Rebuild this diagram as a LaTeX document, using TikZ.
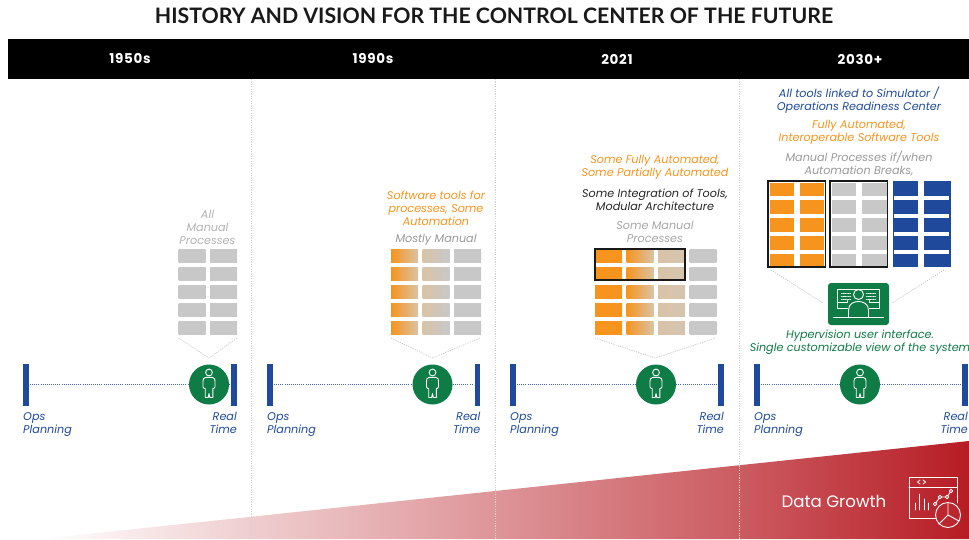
\documentclass[tikz,border=0pt]{standalone}
\usepackage{fontspec}
\setmainfont{Poppins}
\newfontfamily\titlefont{Lato}
\definecolor{cblue}{HTML}{1F4A9C}
\definecolor{cgreen}{HTML}{0F7B45}
\definecolor{corange}{HTML}{F7941D}
\definecolor{cgray}{HTML}{C8C8C8}
\definecolor{cred}{HTML}{B71C24}
\definecolor{ctan}{HTML}{D9C3A6}
\tikzset{
  lbl/.style={font=\itshape\fontsize{11.2}{13}\selectfont,align=center,inner sep=0pt},
  tickbar/.style={fill=cblue,draw=none},
  chev/.style={draw=black!22,dash pattern=on 1.2pt off 1.2pt,line width=.7pt},
  sep/.style={draw=black!18,dash pattern=on 1.2pt off 1.2pt,line width=.8pt},
  axis/.style={draw=cblue!85,dash pattern=on 1pt off 1.1pt,line width=1pt},
  headtxt/.style={text=white,font=\bfseries\fontsize{13.5}{15}\selectfont\addfontfeatures{LetterSpace=5},inner sep=0pt},
  icon/.style={draw=white,line width=.9pt,line join=round,line cap=round},
  persondisc/.style={circle,fill=cgreen,minimum size=40pt,inner sep=0pt},
}
\newcommand{\cellbox}[4]{\shade[left color=#3,right color=#4] (#1,#2) rectangle ++(27,13);}
\newcommand{\gridcol}[3]{\foreach \ry in {249,267,285,303,321}{\cellbox{#1}{\ry}{#2}{#3}}}
\newcommand{\personicon}[2]{%
  \begin{scope}[shift={(#1,#2)}]
    \draw[icon] (0,-12) circle (3.4);
    \draw[icon] (-3,-7.2) .. controls (-6,-7) and (-6,-5) .. (-6,-3) -- (-6,2.5) .. controls (-6,4) and (-4,4) .. (-3.8,4) -- (-3.8,13) -- (-.8,13) -- (0,9) -- (.8,13) -- (3.8,13) -- (3.8,4) .. controls (4,4) and (6,4) .. (6,2.5) -- (6,-3) .. controls (6,-5) and (6,-7) .. (3,-7.2) -- cycle;
  \end{scope}}
\newcommand{\timeline}[4]{% left bar x, right bar x, disc x, suffix
  \fill[tickbar] (#1,364) rectangle ++(5.5,42);
  \fill[tickbar] (#2,364) rectangle ++(5.5,42);
  \node[persondisc] (disc#4) at (#3,384.5) {};
  \coordinate (l#4) at (#1+7,384.5);
  \coordinate (r#4) at (#2-1.5,384.5);
  \draw[axis] (l#4) -- (disc#4);
  \draw[axis] (disc#4) -- (r#4);
  \personicon{#3}{384.5}
  \node[lbl,text=cblue,align=left,anchor=north west] (ops#4) at (#1,412) {Ops\\Planning};
  \node[lbl,text=cblue,align=right,anchor=north east] (rt#4) at (#2+6,412) {Real\\Time};
}
\begin{document}
\begin{tikzpicture}[x=1pt,y=-1pt]
\useasboundingbox (0,0) rectangle (969,539);
% red wedge
\begin{scope}
  \clip (40,539) -- (969,441) -- (969,539) -- cycle;
  \shade[left color=white,right color=cred!72!white] (40,430) rectangle (740.5,539);
  \shade[left color=cred!72!white,right color=cred] (740,430) rectangle (969,539);
\end{scope}
% separators
\foreach \sx/\sn in {251.5/a,495/b,739/c}{
  \coordinate (st\sn) at (\sx,79);
  \coordinate (sb\sn) at (\sx,539);
  \draw[sep] (st\sn) -- (sb\sn);
}
% title and bar
\node[font=\titlefont\fontsize{21.3}{24}\selectfont\bfseries,inner sep=0pt,text=black!90] (title) at (494,15.5) {HISTORY AND VISION FOR THE CONTROL CENTER OF THE FUTURE};
\fill[black] (8,39) rectangle (969,79);
\node[headtxt] (h1) at (130,59) {1950s};
\node[headtxt] (h2) at (373,59) {1990s};
\node[headtxt] (h3) at (617,59) {2021};
\node[headtxt] (h4) at (860,59) {2030+};
% timelines
\timeline{23}{231}{209}{A}
\timeline{267}{474.5}{432.5}{B}
\timeline{510}{718}{656}{C}
\timeline{754}{962}{860}{D}
% column 1
\node[lbl,text=black!30] (t1) at (207.5,227) {All\\Manual\\Processes};
\gridcol{178.5}{cgray}{cgray}
\gridcol{210}{cgray}{cgray}
\coordinate (c1a) at (178.5,338); \coordinate (c1b) at (209,358); \coordinate (c1c) at (237,338);
\draw[chev] (c1a) -- (c1b) -- (c1c);
% column 2
\node[lbl,text=corange] (t2a) at (436,208) {Software tools for\\processes, Some\\Automation};
\node[lbl,text=black!40] (t2b) at (436,239.5) {Mostly Manual};
\gridcol{391}{corange}{ctan}
\gridcol{422.5}{ctan}{cgray}
\gridcol{454}{cgray}{cgray}
\coordinate (c2a) at (391,338); \coordinate (c2b) at (432.5,358); \coordinate (c2c) at (480,338);
\draw[chev] (c2a) -- (c2b) -- (c2c);
% column 3
\node[lbl,text=corange] (t3a) at (655,167.5) {Some Fully Automated,\\Some Partially Automated};
\node[lbl,text=black!85] (t3b) at (655,199.5) {Some Integration of Tools,\\Modular Architecture};
\node[lbl,text=black!35] (t3c) at (655,232) {Some Manual\\Processes};
\gridcol{595}{corange}{corange}
\gridcol{626.5}{corange}{ctan}
\gridcol{658}{ctan}{ctan!70!cgray}
\gridcol{689.5}{cgray}{cgray}
\draw[line width=1.5pt,black!90] (595,249) rectangle (685,280);
\coordinate (c3a) at (595,338); \coordinate (c3b) at (655,358); \coordinate (c3c) at (716,338);
\draw[chev] (c3a) -- (c3b) -- (c3c);
% column 4
\node[lbl,text=cblue] (t4a) at (859,100) {All tools linked to Simulator /\\Operations Readiness Center};
\node[lbl,text=corange] (t4b) at (859,132.5) {Fully Automated,\\Interoperable Software Tools};
\node[lbl,text=black!40] (t4c) at (859,164) {Manual Processes if/when\\Automation Breaks,};
\newcommand{\bigtable}[3]{% x, colour, inset
  \fill[#2] (#1+#3,183) rectangle (#1+58.5-#3,265.5);
  \fill[white] (#1+26,183) rectangle (#1+32,265.5);
  \foreach \by in {195.5,213.5,231.5,249.5}{\fill[white] (#1+#3,\by) rectangle (#1+58.5-#3,\by+4.5);}
}
\bigtable{767.5}{corange}{2}
\bigtable{830}{cgray}{2}
\fill[cblue] (892.5,181) rectangle (950.5,267);
\fill[white] (918,181) rectangle (924,267);
\foreach \by in {195.5,213.5,231.5,249.5}{\fill[white] (894,\by) rectangle (949,\by+4.5);}
\draw[line width=1.5pt,black!90] (768,181) rectangle (825.5,267);
\draw[line width=1.5pt,black!90] (830,181) rectangle (887.5,267);
\node[draw=none,fill=cgreen,rounded corners=3pt,minimum width=61pt,minimum height=42pt,inner sep=0pt] (hyper) at (858.5,304) {};
\coordinate (c4a) at (771,270); \coordinate (c4b) at (823,303);
\coordinate (c4c) at (944,270); \coordinate (c4d) at (892,303);
\draw[chev] (c4a) -- (c4b);
\draw[chev] (c4c) -- (c4d);
% monitor icon
\begin{scope}[shift={(858.5,304)}]
  \draw[icon] (-11,-3.5) -- (-11,-2) -- (-21,-2) -- (-21,-15) -- (21,-15) -- (21,-2) -- (11,-2) -- (11,-3.5);
  \draw[icon,fill=cgreen] (0,-9.5) circle (5);
  \draw[icon,fill=cgreen] (-10,13) -- (-10,6) .. controls (-10,0) and (-5,-2.5) .. (0,-2.5) .. controls (5,-2.5) and (10,0) .. (10,6) -- (10,13);
  \draw[icon] (-25,13) -- (25,13);
  \draw[icon,line width=.7pt,densely dotted] (-17,-11) -- (-8,-11) (-17,-8) -- (-8,-8) (-17,-5) -- (-8,-5) (8,-11) -- (17,-11) (8,-8) -- (17,-8) (8,-5) -- (17,-5);
  \draw[icon] (-21,-2) -- (-21,4) -- (-11,4) (21,-2) -- (21,4) -- (11,4);
\end{scope}
\node[lbl,text=cgreen] (t4d) at (860,342) {Hypervision user interface.\\Single customizable view of the system};
% data growth
\node[text=white,font=\fontsize{16.6}{20}\selectfont,inner sep=0pt] (dg) at (834,501) {Data Growth};
\begin{scope}
  \draw[icon] (944,518) -- (909,518) -- (909,477) -- (957,477) -- (957,503);
  \draw[icon] (909,487) -- (957,487);
  \draw[icon,line width=.8pt] (920,480) -- (917.5,482) -- (920,484) (923,480) -- (925.5,482) -- (923,484);
  \draw[icon] (915,510) -- (915,503) (919.5,510) -- (919.5,494) (924,510) -- (924,499) (928.5,510) -- (928.5,503);
  \draw[icon] (935,504) -- (940,497) -- (947,497) -- (951,491);
  \foreach \p in {(935,504),(940,497),(947,497),(951,491)}{\draw[icon,fill=cred] \p circle (1.8);}
  \draw[icon,fill=cred!95!white] (948,515) circle (12.5);
  \draw[icon] (948,515) -- (948,502.5) (948,515) -- (959,521) (948,515) -- (939,524);
\end{scope}
\end{tikzpicture}
\end{document}
